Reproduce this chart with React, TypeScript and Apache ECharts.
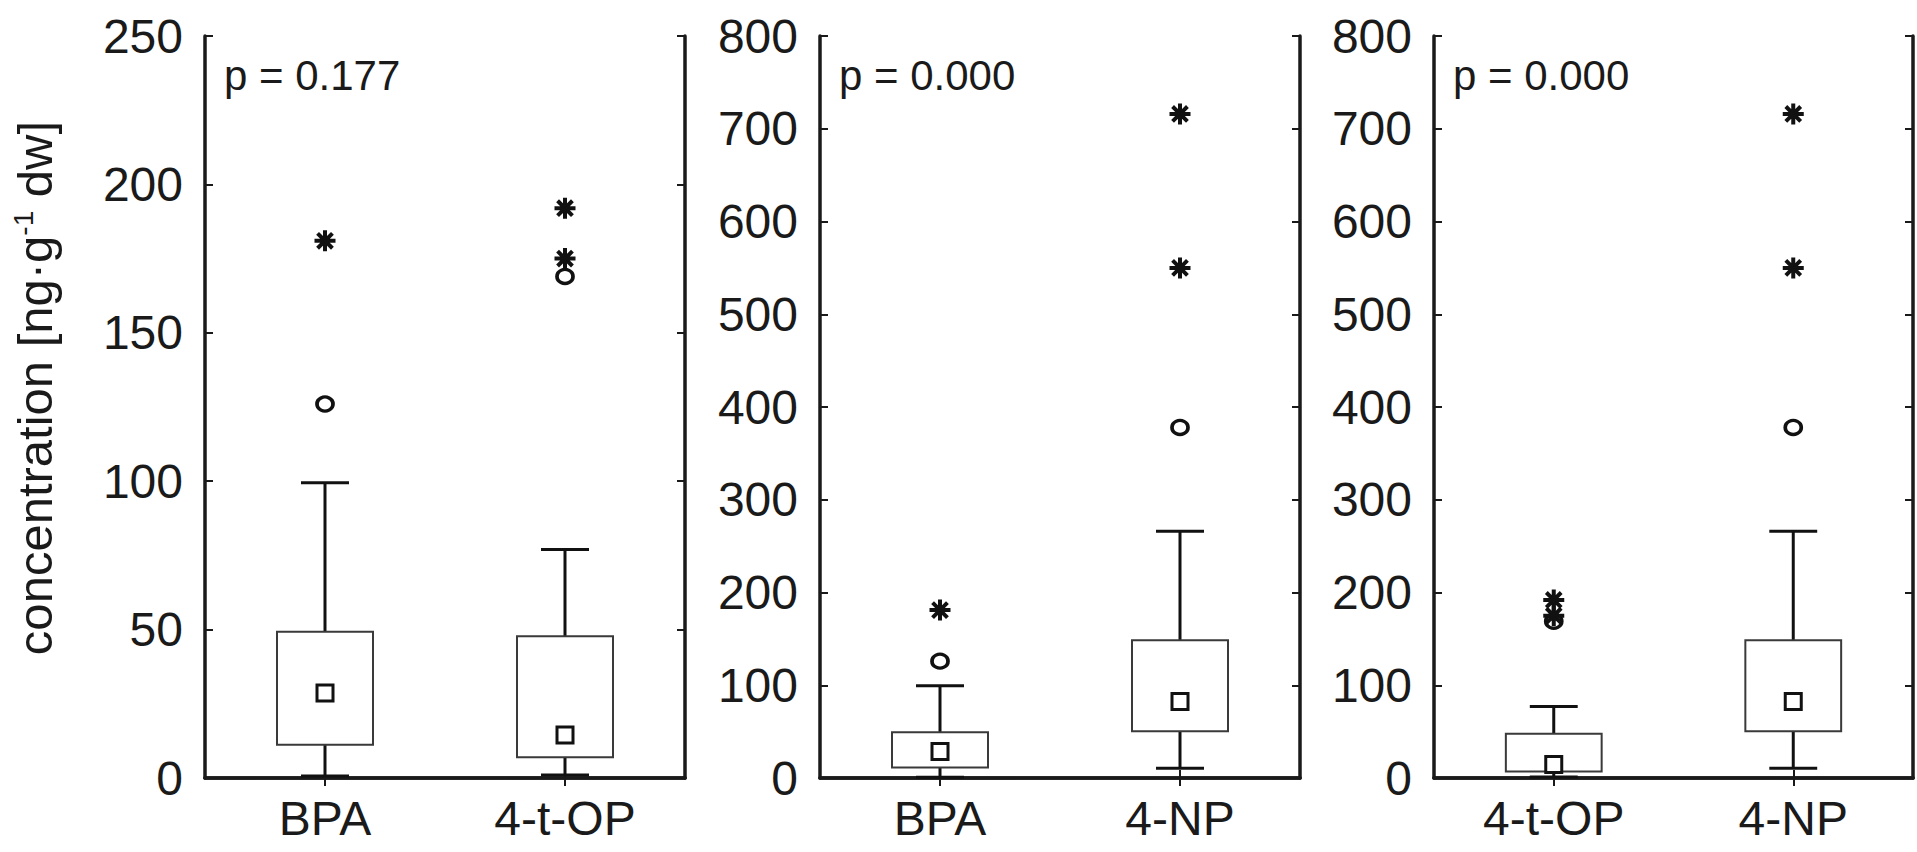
import React, { useEffect, useRef } from 'react';
import * as echarts from 'echarts';

// ---- data ----
const panel1Categories = ['BPA', '4-t-OP'];
const panel2Categories = ['BPA', '4-NP'];
const panel3Categories = ['4-t-OP', '4-NP'];
const pLabels = ['p = 0.177', 'p = 0.000', 'p = 0.000'];
const yMaxes = [250, 800, 800];
const yIntervals = [50, 100, 100];

// [low whisker, Q1, median, Q3, high whisker]
const bpaStats = [0.7, 11.2, 28.6, 49.3, 99.5];
const optStats = [1, 7, 14.5, 47.8, 77];
const npStats = [10.5, 50.5, 82.5, 148.5, 266];

// outliers (circles) and extremes (asterisks)
const bpaOutliers = [126];
const bpaExtremes = [181];
const optOutliers = [169];
const optExtremes = [175, 192];
const npOutliers = [378];
const npExtremes = [550, 716];

const statsByName: Record<string, number[]> = { 'BPA': bpaStats, '4-t-OP': optStats, '4-NP': npStats };
const outliersByName: Record<string, number[]> = { 'BPA': bpaOutliers, '4-t-OP': optOutliers, '4-NP': npOutliers };
const extremesByName: Record<string, number[]> = { 'BPA': bpaExtremes, '4-t-OP': optExtremes, '4-NP': npExtremes };

const panels = [panel1Categories, panel2Categories, panel3Categories];

// ---- layout / style ----
const FONT = '"Liberation Sans", Arial, Helvetica, sans-serif';
const INK = '#1a1a1a';
const gridLeft = [205, 820, 1434];
const gridWidth = [480, 480, 479];
const gridTop = 36;
const gridHeight = 742;
const STAR = 'path://M10 0 L10 20 M0 10 L20 10 M2.93 2.93 L17.07 17.07 M17.07 2.93 L2.93 17.07';

function buildOption() {
  const grid: any[] = [];
  const xAxis: any[] = [];
  const yAxis: any[] = [];
  const series: any[] = [];
  const graphic: any[] = [];

  const axisLine = { show: true, lineStyle: { color: INK, width: 3.5 } };
  const tick = { show: true, inside: true, length: 8, lineStyle: { color: INK, width: 2 } };

  panels.forEach((cats, i) => {
    grid.push({ left: gridLeft[i], top: gridTop, width: gridWidth[i], height: gridHeight, containLabel: false });
    xAxis.push({
      type: 'category', gridIndex: i, data: cats, position: 'bottom',
      axisLine, axisTick: { ...tick, alignWithLabel: true },
      axisLabel: { fontSize: 48, color: INK, fontFamily: FONT, margin: 16 },
      splitLine: { show: false },
    });
    xAxis.push({
      type: 'category', gridIndex: i, data: cats, position: 'top',
      axisLine, axisTick: { ...tick, alignWithLabel: true },
      axisLabel: { show: false }, splitLine: { show: false },
    });
    const yBase: any = {
      type: 'value', gridIndex: i, min: 0, max: yMaxes[i], interval: yIntervals[i],
      axisLine, axisTick: tick, splitLine: { show: false },
    };
    const yLeft: any = {
      ...yBase, position: 'left',
      axisLabel: { fontSize: 48, color: INK, fontFamily: FONT, margin: 22 },
    };
    if (i === 0) {
      yLeft.name = '{a|concentration [ng·g}{s|-1}{a| dw]}';
      yLeft.nameLocation = 'middle';
      yLeft.nameRotate = 90;
      yLeft.nameGap = 144;
      yLeft.nameTextStyle = {
        padding: [0, 0, 0, 38],
        rich: {
          a: { fontSize: 49, fontFamily: FONT, color: INK, lineHeight: 52 },
          s: { fontSize: 28, fontFamily: FONT, color: INK, lineHeight: 28, verticalAlign: 'top' },
        },
      };
    }
    yAxis.push(yLeft);
    yAxis.push({ ...yBase, position: 'right', axisLabel: { show: false } });

    const boxData = cats.map((c, k) => {
      const s = statsByName[c];
      return [k, s[0], s[1], s[3], s[4]];
    });
    series.push({
      type: 'custom', xAxisIndex: 2 * i, yAxisIndex: 2 * i, z: 2,
      data: boxData,
      renderItem: (params: any, api: any) => {
        const k = api.value(0);
        const pLow = api.coord([k, api.value(1)]);
        const pQ1 = api.coord([k, api.value(2)]);
        const pQ3 = api.coord([k, api.value(3)]);
        const pHigh = api.coord([k, api.value(4)]);
        const band = api.size([1, 0])[0];
        const boxW = band * 0.4;
        const capW = band * 0.2;
        const cx = pQ1[0];
        const wStyle = { stroke: '#111', lineWidth: 3 };
        return {
          type: 'group',
          children: [
            { type: 'line', shape: { x1: cx, y1: pHigh[1], x2: cx, y2: pQ3[1] }, style: wStyle },
            { type: 'line', shape: { x1: cx - capW / 2, y1: pHigh[1], x2: cx + capW / 2, y2: pHigh[1] }, style: wStyle },
            { type: 'line', shape: { x1: cx, y1: pQ1[1], x2: cx, y2: pLow[1] }, style: wStyle },
            { type: 'line', shape: { x1: cx - capW / 2, y1: pLow[1], x2: cx + capW / 2, y2: pLow[1] }, style: wStyle },
            {
              type: 'rect',
              shape: { x: cx - boxW / 2, y: pQ3[1], width: boxW, height: pQ1[1] - pQ3[1] },
              style: { fill: '#fff', stroke: '#3a3a3a', lineWidth: 2 },
            },
          ],
        };
      },
    });
    series.push({
      type: 'scatter', xAxisIndex: 2 * i, yAxisIndex: 2 * i, z: 3,
      symbol: 'rect', symbolSize: 16,
      itemStyle: { color: '#fff', borderColor: '#111', borderWidth: 3, opacity: 1 },
      data: cats.map((c) => [c, statsByName[c][2]]),
    });
    series.push({
      type: 'scatter', xAxisIndex: 2 * i, yAxisIndex: 2 * i, z: 3,
      symbol: 'circle', symbolSize: [16, 14],
      itemStyle: { color: '#fff', borderColor: '#111', borderWidth: 3.5, opacity: 1 },
      data: cats.flatMap((c) => outliersByName[c].map((v) => [c, v])),
    });
    series.push({
      type: 'scatter', xAxisIndex: 2 * i, yAxisIndex: 2 * i, z: 4,
      symbol: STAR, symbolSize: 21,
      itemStyle: { color: '#111', borderColor: '#111', borderWidth: 4, opacity: 1 },
      data: cats.flatMap((c) => extremesByName[c].map((v) => [c, v])),
    });

    graphic.push({
      type: 'text', x: gridLeft[i] + 19, y: 75, z: 10,
      style: { text: pLabels[i], fontSize: 42, fontFamily: FONT, fill: INK, verticalAlign: 'middle', align: 'left' },
    });
  });

  return {
    animation: false,
    backgroundColor: '#ffffff',
    grid, xAxis, yAxis, series, graphic,
  };
}

export default function App() {
  const ref = useRef<HTMLDivElement>(null);
  useEffect(() => {
    document.body.style.margin = '0';
    const chart = echarts.init(ref.current as HTMLDivElement, null, { renderer: 'svg' });
    chart.setOption(buildOption() as any);
    return () => chart.dispose();
  }, []);
  return <div ref={ref} style={{ width: 1917, height: 852, background: '#fff' }} />;
}
